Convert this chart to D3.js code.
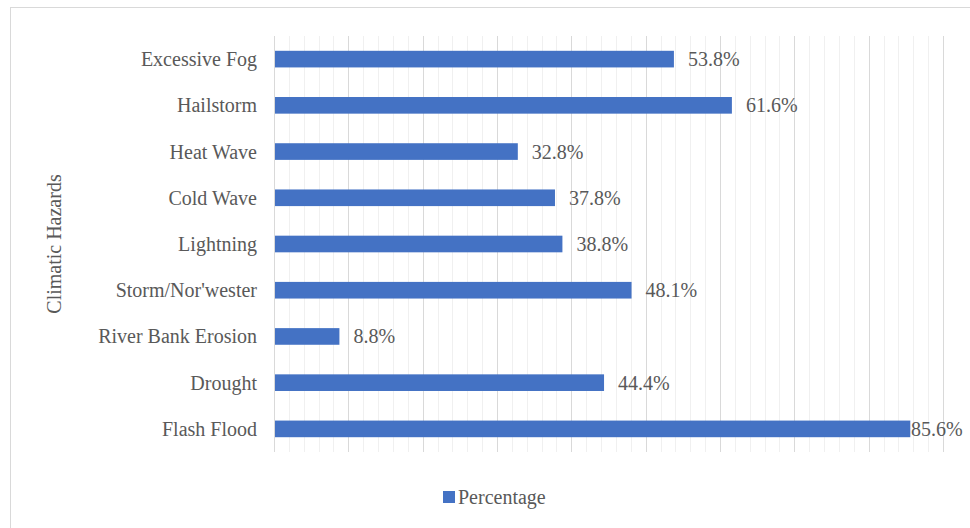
<!DOCTYPE html>
<html>
<head>
<meta charset="utf-8">
<script src="https://cdn.jsdelivr.net/npm/d3@7"></script>
<style>
  body { margin: 0; background: #fff; }
  svg { display: block; font-family: "Liberation Serif", "Times New Roman", serif; }
</style>
</head>
<body>
<script>
const hazards = ["Excessive Fog", "Hailstorm", "Heat Wave", "Cold Wave", "Lightning",
  "Storm/Nor'wester", "River Bank Erosion", "Drought", "Flash Flood"];
const percentage = [53.8, 61.6, 32.8, 37.8, 38.8, 48.1, 8.8, 44.4, 85.6];
const majorTicks = d3.range(0, 91, 10);
const minorTicks = d3.range(0, 91, 2);

const width = 970, height = 528;
const margin = {top: 36, right: 27, bottom: 76, left: 274};
const barColor = "#4472C4";
const textColor = "#595959";
const fontSize = 20;

const svg = d3.select("body").append("svg")
  .attr("width", width)
  .attr("height", height);

// chart border (right and bottom edges fall outside the picture)
svg.append("rect")
  .attr("x", 10.5).attr("y", 7.5)
  .attr("width", width + 20).attr("height", height + 20)
  .attr("fill", "none")
  .attr("stroke", "#d9d9d9");

const x = d3.scaleLinear()
  .domain([0, 90])
  .range([margin.left, width - margin.right]);

const y = d3.scaleBand()
  .domain(hazards)
  .range([margin.top, height - margin.bottom])
  .paddingInner(0.64)
  .paddingOuter(0.32);

// minor gridlines
svg.append("g")
  .selectAll("line")
  .data(minorTicks.filter(d => d % 10 !== 0))
  .join("line")
  .attr("x1", d => Math.round(x(d)) + 0.5)
  .attr("x2", d => Math.round(x(d)) + 0.5)
  .attr("y1", margin.top)
  .attr("y2", height - margin.bottom)
  .attr("stroke", "#f0f0f0")
  .attr("stroke-width", 1);

// major gridlines
svg.append("g")
  .selectAll("line")
  .data(majorTicks)
  .join("line")
  .attr("x1", d => Math.round(x(d)) + 0.5)
  .attr("x2", d => Math.round(x(d)) + 0.5)
  .attr("y1", margin.top)
  .attr("y2", height - margin.bottom)
  .attr("stroke", "#d9d9d9")
  .attr("stroke-width", 1);

// bars
svg.append("g")
  .selectAll("rect")
  .data(hazards)
  .join("rect")
  .attr("x", x(0) + 1)
  .attr("y", d => y(d))
  .attr("width", (d, i) => x(percentage[i]) - x(0) - 1)
  .attr("height", y.bandwidth())
  .attr("fill", barColor);

// category labels
svg.append("g")
  .selectAll("text")
  .data(hazards)
  .join("text")
  .attr("x", margin.left - 17)
  .attr("y", d => y(d) + y.bandwidth() / 2)
  .attr("dy", "0.35em")
  .attr("text-anchor", "end")
  .attr("font-size", fontSize)
  .attr("fill", textColor)
  .text(d => d);

// value labels
svg.append("g")
  .selectAll("text")
  .data(hazards)
  .join("text")
  .attr("x", (d, i) => Math.min(x(percentage[i]) + 14, width - 59))
  .attr("y", d => y(d) + y.bandwidth() / 2)
  .attr("dy", "0.35em")
  .attr("font-size", fontSize)
  .attr("fill", textColor)
  .text((d, i) => percentage[i].toFixed(1) + "%");

// axis title
svg.append("text")
  .attr("transform", `translate(61, ${(margin.top + height - margin.bottom) / 2}) rotate(-90)`)
  .attr("text-anchor", "middle")
  .attr("font-size", fontSize)
  .attr("fill", textColor)
  .text("Climatic Hazards");

// legend
const legend = svg.append("g").attr("transform", "translate(443, 491)");
legend.append("rect")
  .attr("width", 12).attr("height", 12)
  .attr("fill", barColor);
legend.append("text")
  .attr("x", 15).attr("y", 6)
  .attr("dy", "0.35em")
  .attr("font-size", fontSize)
  .attr("fill", textColor)
  .text("Percentage");
</script>
</body>
</html>
